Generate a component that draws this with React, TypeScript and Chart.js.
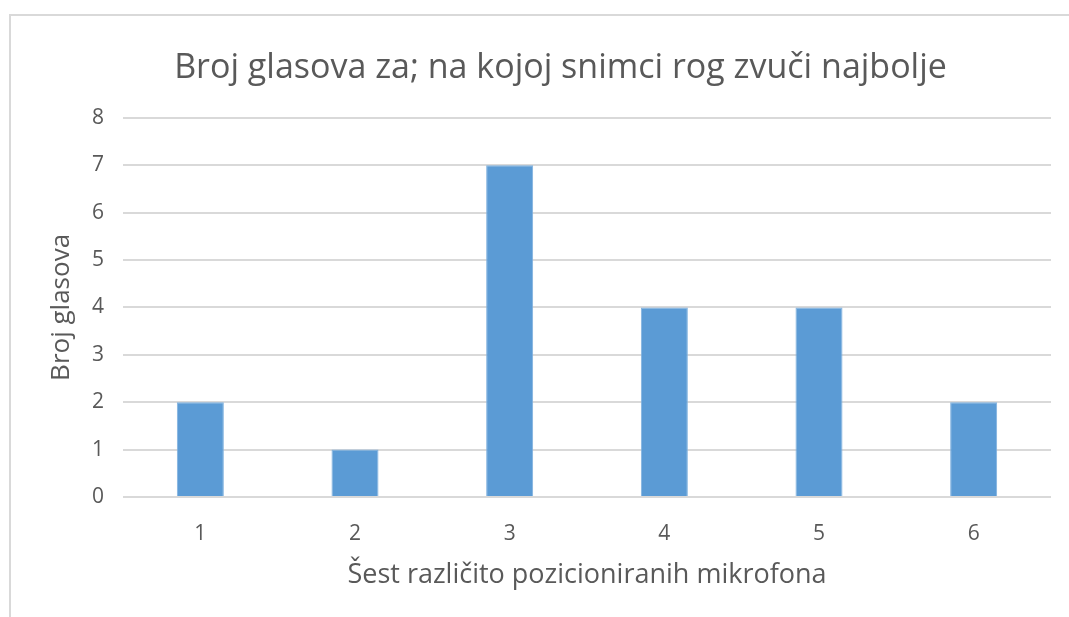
import React, { useEffect, useRef } from "react";
import { Chart, registerables } from "chart.js";

Chart.register(...registerables);

const categories = ["1", "2", "3", "4", "5", "6"];
const votes = [2, 1, 7, 4, 4, 2];
const yTicks = [0, 1, 2, 3, 4, 5, 6, 7, 8];

const titleText = "Broj glasova za; na kojoj snimci rog zvuči najbolje";
const xTitleText = "Šest različito pozicioniranih mikrofona";
const yTitleText = "Broj glasova";

const FONT = "'Open Sans', 'Noto Sans', sans-serif";
const TEXT = "#595959";
const GRID = "#d9d9d9";

export default function App() {
  const ref = useRef<HTMLCanvasElement | null>(null);

  useEffect(() => {
    if (!ref.current) return;
    const chart = new Chart(ref.current, {
      type: "bar",
      data: {
        labels: categories,
        datasets: [
          {
            data: votes,
            backgroundColor: "#5b9bd5",
            borderColor: "#7fb1df",
            borderWidth: 1,
            categoryPercentage: 1,
            barPercentage: 0.304,
          },
        ],
      },
      options: {
        responsive: false,
        animation: false,
        layout: { padding: { left: 70, right: 18, top: 0, bottom: 0 } },
        plugins: {
          legend: { display: false },
          tooltip: { enabled: false },
          title: {
            display: true,
            text: titleText,
            color: TEXT,
            font: { family: FONT, size: 34, weight: "normal" },
            padding: { top: 48, bottom: 29 },
          },
        },
        scales: {
          x: {
            grid: { display: false, drawTicks: false },
            border: { display: false },
            ticks: {
              color: TEXT,
              font: { family: FONT, size: 21 },
              padding: 24,
            },
            title: {
              display: true,
              text: xTitleText,
              color: TEXT,
              font: { family: FONT, size: 27 },
              padding: { top: 0, bottom: 25 },
            },
            afterFit: (s: any) => {
              s.height = 120;
            },
          },
          y: {
            min: 0,
            max: 8,
            afterBuildTicks: (s: any) => {
              s.ticks = yTicks.map((v) => ({ value: v }));
            },
            grid: { color: GRID, lineWidth: 2, drawTicks: false },
            border: { display: false },
            ticks: {
              color: TEXT,
              font: { family: FONT, size: 21 },
              padding: 19,
            },
            title: {
              display: true,
              text: yTitleText,
              color: TEXT,
              font: { family: FONT, size: 26 },
              padding: { top: -24, bottom: 0 },
            },
            afterFit: (s: any) => {
              s.width = 53;
            },
          },
        },
      },
    });
    return () => chart.destroy();
  }, []);

  return (
    <div
      style={{
        position: "absolute",
        left: 0,
        top: 0,
        width: 1069,
        height: 617,
        overflow: "hidden",
        background: "#fff",
      }}
    >
      <div
        style={{
          position: "absolute",
          left: 9,
          top: 14,
          width: 1060,
          height: 603,
          borderTop: "2px solid #d9d9d9",
          borderLeft: "2px solid #d9d9d9",
          boxSizing: "border-box",
        }}
      />
      <canvas
        ref={ref}
        width={1069}
        height={617}
        style={{ position: "absolute", left: 0, top: 0 }}
      />
    </div>
  );
}
